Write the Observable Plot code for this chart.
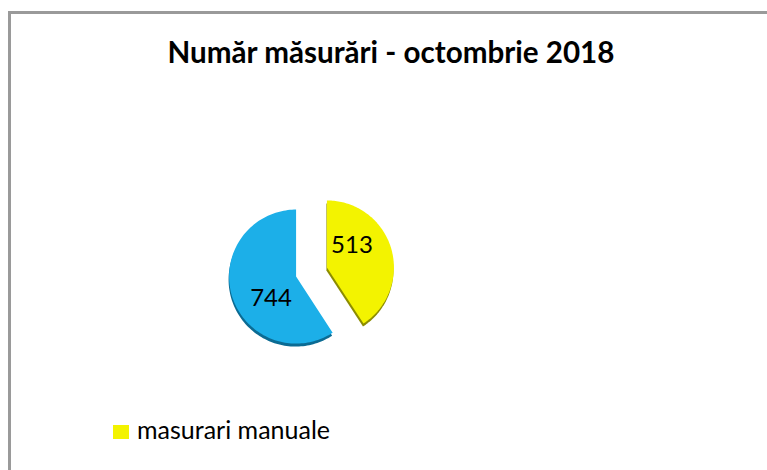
<!DOCTYPE html>
<html><head><meta charset="utf-8">
<script src="https://cdn.jsdelivr.net/npm/d3@7"></script>
<script src="https://cdn.jsdelivr.net/npm/@observablehq/plot@0.6"></script>
<style>
body{margin:0;background:#fff;}
#wrap{position:relative;width:767px;height:470px;overflow:hidden;font-family:Lato,"Open Sans",sans-serif;color:#000;}
#frame{position:absolute;left:8px;top:11px;width:800px;height:500px;border-left:3px solid #9a9a9a;border-top:3px solid #9a9a9a;}
#chart{position:absolute;left:0;top:0;}
#title{position:absolute;left:0;width:782px;top:34px;text-align:center;font-weight:bold;font-size:29.6px;line-height:1.2;white-space:nowrap;}
#legend .sw{position:absolute;left:113px;top:425px;width:16px;height:14px;}
#legend .lt{position:absolute;left:137px;top:414px;font-size:25px;line-height:1.2;white-space:nowrap;}
</style></head>
<body>
<div id="wrap">
  <div id="frame"></div>
  <div id="chart"></div>
  <div id="title"></div>
  <div id="legend"></div>
</div>
<script>
const title = "Număr măsurări - octombrie 2018";
const categories = ["masurari manuale", "masurari automate"];
const values = [513, 744];
const colors = ["#F3F300", "#1CAFE8"];
const edgeColors = ["#8C8C00", "#0B6B93"];
const legendItems = ["masurari manuale"];

const explode = 0.24;
const steps = 120;
const total = d3.sum(values);
let acc = 0;
const slices = values.map((v, i) => {
  const a0 = acc / total * 2 * Math.PI;
  acc += v;
  const a1 = acc / total * 2 * Math.PI;
  const m = (a0 + a1) / 2;
  return {cat: categories[i], value: v, i, a0, a1, m,
          ox: explode * Math.sin(m), oy: explode * Math.cos(m)};
});
const pts = [];
for (const s of slices) {
  pts.push({cat: s.cat, i: s.i, x: s.ox, y: s.oy});
  for (let k = 0; k <= steps; k++) {
    const a = s.a0 + (s.a1 - s.a0) * k / steps;
    pts.push({cat: s.cat, i: s.i, x: s.ox + Math.sin(a), y: s.oy + Math.cos(a)});
  }
}
const labelShift = -25 * Math.PI / 180;
const labels = slices.map(s => ({
  cat: s.cat, value: s.value,
  x: s.ox + 0.5 * Math.sin(s.m + labelShift),
  y: s.oy + 0.5 * Math.cos(s.m + labelShift)
}));

const shadowMarks = slices.map(s =>
  Plot.line(pts.filter(p => p.i === s.i), {x: "x", y: "y", fill: edgeColors[s.i], stroke: "none", curve: "linear-closed", dx: -0.5, dy: 3})
);

const plot = Plot.plot({
  width: 767, height: 470,
  marginLeft: 244, marginRight: 389, marginTop: 204.5, marginBottom: 131.5,
  x: {domain: [-1, 1], axis: null},
  y: {domain: [-1, 1], axis: null},
  color: {domain: categories, range: colors},
  style: {background: "transparent", overflow: "visible"},
  marks: [
    ...shadowMarks,
    Plot.line(pts, {x: "x", y: "y", z: "cat", fill: "cat", stroke: "none", curve: "linear-closed"}),
    Plot.text(labels, {x: "x", y: "y", text: d => String(d.value), fontSize: 24, fontFamily: "Lato, 'Open Sans', sans-serif", fill: "#000", textAnchor: "middle"})
  ]
});
document.getElementById("chart").appendChild(plot);
document.getElementById("title").textContent = title;
const lg = document.getElementById("legend");
for (const name of legendItems) {
  const i = categories.indexOf(name);
  const sw = document.createElement("span");
  sw.className = "sw"; sw.style.background = colors[i];
  const t = document.createElement("span");
  t.className = "lt";
  t.textContent = name;
  lg.appendChild(sw); lg.appendChild(t);
}
</script>
</body></html>
